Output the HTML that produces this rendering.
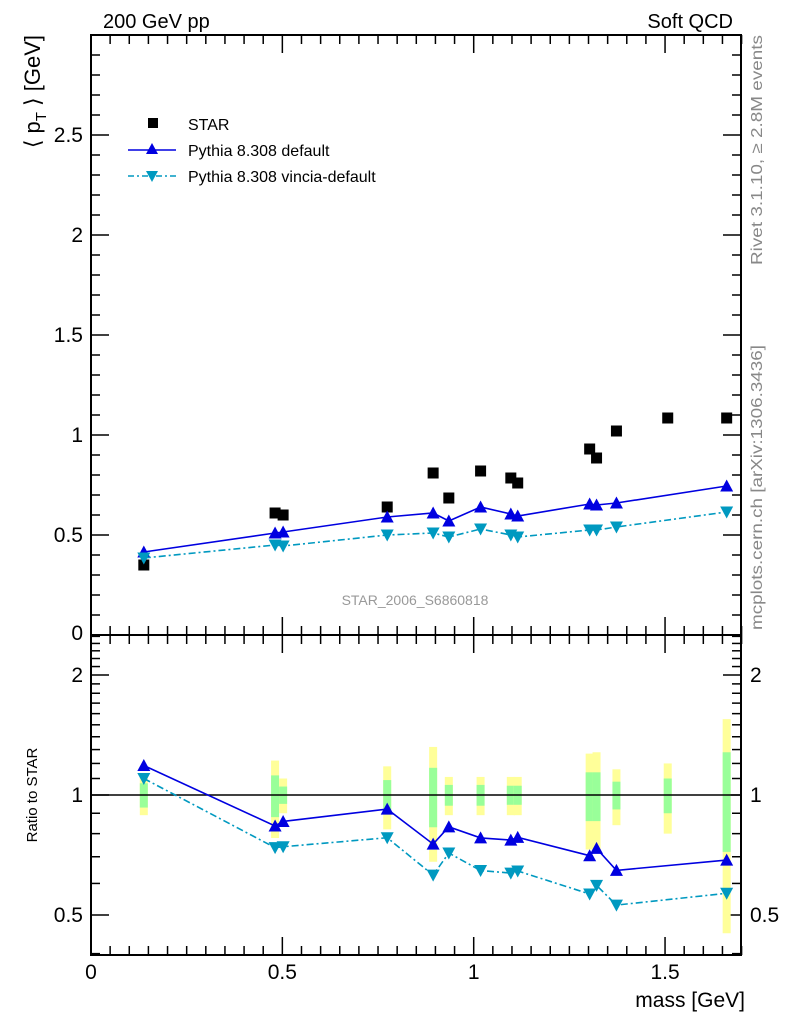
<!DOCTYPE html>
<html><head><meta charset="utf-8"><style>
body{margin:0;background:#fff;}
svg{display:block;font-family:"Liberation Sans",sans-serif;}
</style></head><body>
<svg id="c" width="786" height="1024" xmlns="http://www.w3.org/2000/svg">
<rect x="91" y="35" width="650" height="600" fill="none" stroke="#000" stroke-width="2"/>
<rect x="91" y="635" width="650" height="320" fill="none" stroke="#000" stroke-width="2"/>
<text x="103" y="28" font-size="20">200 GeV pp</text>
<text x="733" y="28" font-size="20" text-anchor="end">Soft QCD</text>
<text transform="translate(762,265) rotate(-90)" font-size="16" fill="#888" textLength="230" lengthAdjust="spacingAndGlyphs">Rivet 3.1.10, ≥ 2.8M events</text>
<text transform="translate(762,630) rotate(-90)" font-size="16" fill="#888" textLength="285" lengthAdjust="spacingAndGlyphs">mcplots.cern.ch [arXiv:1306.3436]</text>
<text transform="translate(40,35) rotate(-90)" font-size="22" text-anchor="end">⟨ p<tspan font-size="15" dy="6">T</tspan><tspan dy="-6"> ⟩ [GeV]</tspan></text>
<text transform="translate(37,795) rotate(-90)" font-size="15" text-anchor="middle">Ratio to STAR</text>
<text x="745" y="1007" font-size="21" text-anchor="end">mass [GeV]</text>
<text x="415" y="605" font-size="14" fill="#999" text-anchor="middle">STAR_2006_S6860818</text>
<g>
<rect x="148" y="118" width="10" height="10" fill="#000"/>
<text x="188" y="130" font-size="16">STAR</text>
<line x1="128" y1="150" x2="176" y2="150" stroke="#0000e0" stroke-width="1.5"/>
<path d="M152,143 L158,154 L146,154Z" fill="#0000e0"/>
<text x="188" y="156" font-size="16">Pythia 8.308 default</text>
<line x1="128" y1="176" x2="176" y2="176" stroke="#0099c0" stroke-width="1.5" stroke-dasharray="6,3,2,3"/>
<path d="M146,171 L158,171 L152,182Z" fill="#0099c0"/>
<text x="188" y="182" font-size="16">Pythia 8.308 vincia-default</text>
</g>
<g id="ax"></g><g id="bands"></g><g id="marks"></g>
</svg>
<script>
const masses=[0.138,0.481,0.502,0.774,0.894,0.935,1.018,1.097,1.115,1.303,1.321,1.373,1.507,1.661];
const starVals=[0.35,0.61,0.60,0.64,0.81,0.685,0.82,0.785,0.76,0.93,0.885,1.02,1.085,1.085];
const statErr=[0.07,0.12,0.05,0.09,0.17,0.06,0.06,0.055,0.055,0.14,0.14,0.08,0.10,0.28];
const totErr=[0.11,0.22,0.10,0.18,0.32,0.11,0.11,0.11,0.11,0.27,0.28,0.16,0.20,0.55];
const defMass=[0.138,0.481,0.502,0.774,0.894,0.935,1.018,1.097,1.115,1.303,1.321,1.373,1.661];
const defVals=[0.415,0.51,0.515,0.59,0.61,0.57,0.64,0.605,0.595,0.655,0.65,0.66,0.745];
const vinVals=[0.385,0.45,0.445,0.50,0.51,0.49,0.53,0.50,0.49,0.525,0.525,0.54,0.615];
const xTicks=[0,0.5,1,1.5];
const yTicks=[0.5,1,1.5,2,2.5];
const rTicks=[0.5,1,2];

const NS="http://www.w3.org/2000/svg";
const X=v=>91+v*382.7;
const Y=v=>635-v*200;
const R=v=>795-120*Math.log2(v);
function mk(p,tag,at){const e=document.createElementNS(NS,tag);for(const k in at)e.setAttribute(k,at[k]);p.appendChild(e);return e;}
const ax=document.getElementById('ax'),bands=document.getElementById('bands'),marks=document.getElementById('marks');
for(let i=0;i<=34;i++){const v=i*0.05,x=X(v),maj=i%10==0;const L=maj?18:9;
 for(const [y0,d] of [[635,-1],[35,1],[955,-1],[635,1]]){const t=mk(ax,'line',{x1:x,x2:x,y1:y0,y2:y0+d*L,stroke:'#000','stroke-width':1.5});
 }}
xTicks.forEach(v=>{const t=mk(ax,'text',{x:X(v),y:979,'font-size':21,'text-anchor':'middle'});t.textContent=String(v);
 });
for(let i=0;i<=30;i++){const v=i*0.1,y=Y(v),maj=i%5==0,L=maj?18:9;
 for(const [x0,d] of [[91,1],[741,-1]]){const t=mk(ax,'line',{x1:x0,x2:x0+d*L,y1:y,y2:y,stroke:'#000','stroke-width':1.5});
 }}
yTicks.forEach(v=>{const t=mk(ax,'text',{x:83,y:Y(v)+7,'font-size':21,'text-anchor':'end'});t.textContent=String(v);
 });
{const t=mk(ax,'text',{x:83,y:640,'font-size':21,'text-anchor':'end'});t.textContent='0';
 }
const rt=[0.4,0.5,0.6,0.7,0.8,0.9,1,1.1,1.2,1.3,1.4,1.5,1.6,1.7,1.8,1.9,2,2.1,2.2,2.3,2.4,2.5];
rt.forEach(v=>{const y=R(v);if(y<636||y>955)return;const maj=rTicks.includes(v),L=maj?18:9;
 for(const [x0,d] of [[91,1],[741,-1]]){const t=mk(ax,'line',{x1:x0,x2:x0+d*L,y1:y,y2:y,stroke:'#000','stroke-width':1.5});
 }});
rTicks.forEach(v=>{for(const [x,a] of [[83,'end'],[750,'start']]){const t=mk(ax,'text',{x:x,y:R(v)+7,'font-size':21,'text-anchor':a});t.textContent=String(v);
 }});
masses.forEach((m,i)=>{const x=X(m)-4;
 const yb=mk(bands,'rect',{x:x,width:8,y:R(1+totErr[i]),height:R(1-totErr[i])-R(1+totErr[i]),fill:'#ffff99'});
 
 const gb=mk(bands,'rect',{x:x,width:8,y:R(1+statErr[i]),height:R(1-statErr[i])-R(1+statErr[i]),fill:'#99ff99'});
 });
{const l=mk(bands,'line',{x1:91,x2:741,y1:R(1),y2:R(1),stroke:'#000','stroke-width':1.5});
 }
masses.forEach((m,i)=>{const r=mk(marks,'rect',{x:X(m)-5.5,y:Y(starVals[i])-5.5,width:11,height:11,fill:'#000'});
 });
function series(vals,color,dash,down,nm){
 const sv=defMass.map(m=>starVals[masses.indexOf(m)]);
 const pm=defMass.map((m,i)=>X(m)+','+Y(vals[i])).join(' ');
 const pr=defMass.map((m,i)=>X(m)+','+R(vals[i]/sv[i])).join(' ');
 for(const pts of [pm,pr]){const l=mk(marks,'polyline',{points:pts,fill:'none',stroke:color,'stroke-width':1.6,'stroke-dasharray':dash});
  }
 defMass.forEach((m,i)=>{const x=X(m);for(const y of [Y(vals[i]),R(vals[i]/sv[i])]){
  const d=down?`M${x-6.5},${y-5.5} L${x+6.5},${y-5.5} L${x},${y+6.5}Z`:`M${x},${y-6.5} L${x+6.5},${y+5.5} L${x-6.5},${y+5.5}Z`;
  const p=mk(marks,'path',{d:d,fill:color});}});
}
series(defVals,'#0000e0','none',false,'pythia-default');
series(vinVals,'#0099c0','7,3,2,3',true,'pythia-vincia');
</script>
</body></html>
